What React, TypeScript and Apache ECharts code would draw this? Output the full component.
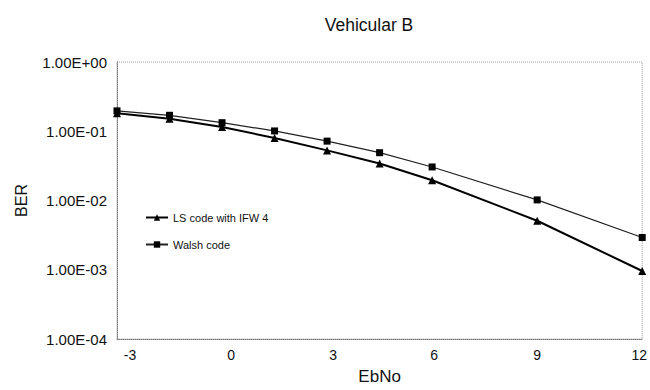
import React, { useEffect, useRef } from "react";
import * as echarts from "echarts";

const ebNo = [-3, -1.5, 0, 1.5, 3, 4.5, 6, 9, 12];
const lsCode = [0.182, 0.152, 0.115, 0.08, 0.0529, 0.0342, 0.0196, 0.0051, 0.00096];
const walshCode = [0.197, 0.17, 0.133, 0.101, 0.072, 0.049, 0.0305, 0.0102, 0.00292];
const seriesNames = ["LS code with IFW 4", "Walsh code"];
const xTickValues = [-3, 0, 3, 6, 9, 12];
// horizontal offsets (px) of the printed tick labels relative to their ticks, as in the source figure
const xTickShift = [13, 9, 6, 2, 0, -3];

const FONT = "Liberation Sans, Arial, sans-serif";

function fmtExp(v: number): string {
  const e = Math.round(Math.log10(v));
  const sign = e < 0 ? "-" : "+";
  const a = Math.abs(e);
  return "1.00E" + sign + (a < 10 ? "0" + a : String(a));
}

const rich: Record<string, any> = {};
xTickValues.forEach((v, i) => {
  const s = xTickShift[i];
  rich["t" + i] = {
    fontFamily: FONT,
    fontSize: 14,
    color: "#111",
    padding: s >= 0 ? [0, 0, 0, 2 * s] : [0, -2 * s, 0, 0],
  };
});

export default function App() {
  const ref = useRef<HTMLDivElement>(null);
  useEffect(() => {
    if (!ref.current) return;
    const chart = echarts.init(ref.current, null, { renderer: "svg" });
    chart.setOption({
      animation: false,
      backgroundColor: "#ffffff",
      title: {
        text: "Vehicular B",
        left: 364,
        top: 11,
        textAlign: "center",
        textStyle: { fontFamily: FONT, fontSize: 17.5, fontWeight: "normal", color: "#111" },
      },
      legend: {
        orient: "vertical",
        left: 140,
        top: 207,
        itemGap: 16,
        itemWidth: 22,
        itemHeight: 8,
        data: seriesNames,
        textStyle: { fontFamily: FONT, fontSize: 11, color: "#111" },
      },
      grid: {
        left: 117, right: 5, top: 62, bottom: 47,
        show: true, borderColor: "#9a9a9a", borderWidth: 1, borderType: "dotted",
      },
      xAxis: {
        type: "value",
        min: -3,
        max: 12,
        interval: 3,
        name: "EbNo",
        nameLocation: "middle",
        nameGap: 29,
        nameTextStyle: { fontFamily: FONT, fontSize: 17, color: "#111" },
        axisLine: { show: true, onZero: false, lineStyle: { color: "#777", type: "dotted" } },
        axisTick: { show: false },
        splitLine: { show: false },
        axisLabel: {
          fontFamily: FONT,
          fontSize: 14,
          color: "#111",
          margin: 9,
          formatter: (v: number) => {
            const i = xTickValues.indexOf(v);
            return i >= 0 ? "{t" + i + "|" + v + "}" : String(v);
          },
          rich,
        },
      },
      yAxis: {
        type: "log",
        min: 0.0001,
        max: 1,
        logBase: 10,
        name: "BER",
        nameLocation: "middle",
        nameGap: 88,
        nameTextStyle: { fontFamily: FONT, fontSize: 16, color: "#111" },
        axisLine: { show: true, onZero: false, lineStyle: { color: "#777", type: "dotted" } },
        axisTick: { show: false },
        splitLine: { show: false },
        axisLabel: { fontFamily: FONT, fontSize: 15, color: "#111", margin: 10, formatter: (v: number) => fmtExp(v) },
      },
      series: [
        {
          name: seriesNames[0],
          type: "line",
          data: ebNo.map((x, i) => [x, lsCode[i]]),
          symbol: "triangle",
          symbolSize: 8,
          lineStyle: { color: "#000", width: 2 },
          itemStyle: { color: "#000" },
        },
        {
          name: seriesNames[1],
          type: "line",
          data: ebNo.map((x, i) => [x, walshCode[i]]),
          symbol: "rect",
          symbolSize: 7,
          lineStyle: { color: "#222", width: 1.2 },
          itemStyle: { color: "#000" },
        },
      ],
    });
    return () => chart.dispose();
  }, []);
  return <div ref={ref} style={{ width: 650, height: 390, position: "fixed", left: 0, top: 0 }} />;
}
